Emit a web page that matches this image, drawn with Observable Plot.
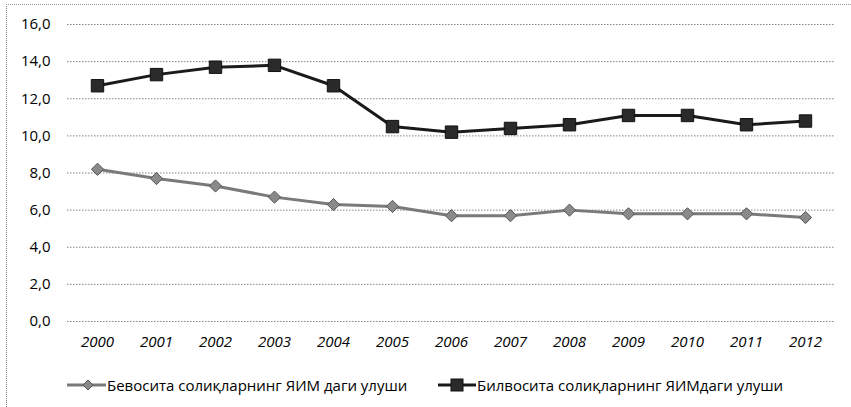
<!DOCTYPE html>
<html>
<head>
<meta charset="utf-8">
<script src="https://cdn.jsdelivr.net/npm/d3@7"></script>
<script src="https://cdn.jsdelivr.net/npm/@observablehq/plot@0.6"></script>
<style>
  html, body { margin: 0; padding: 0; background: #fff; }
  #frame { position: relative; width: 851px; height: 407px; }
  #border { position: absolute; left: 6px; top: 4px; width: 845px; height: 403px; box-sizing: border-box;
            border-left: 1px dotted #777; border-top: 1px dotted #999; pointer-events: none; }
  #chart { position: absolute; left: 0; top: 0; }
  #legend { position: absolute; left: 0; top: 374px; width: 851px; font-family: "Open Sans", sans-serif;
            font-size: 15px; color: #000; }
  .item { position: absolute; top: 0; height: 22px; display: flex; align-items: center; white-space: nowrap; }
  .item svg { margin-right: 1px; }
</style>
</head>
<body>
<div id="frame">
  <div id="chart"></div>
  <div id="border"></div>
  <div id="legend"></div>
</div>
<script>
const years = ["2000","2001","2002","2003","2004","2005","2006","2007","2008","2009","2010","2011","2012"];
const direct = [8.2, 7.7, 7.3, 6.7, 6.3, 6.2, 5.7, 5.7, 6.0, 5.8, 5.8, 5.8, 5.6];
const indirect = [12.7, 13.3, 13.7, 13.8, 12.7, 10.5, 10.2, 10.4, 10.6, 11.1, 11.1, 10.6, 10.8];
const seriesNames = ["Бевосита солиқларнинг ЯИМ даги улуши", "Билвосита солиқларнинг ЯИМдаги улуши"];
const yTicks = [0, 2, 4, 6, 8, 10, 12, 14, 16];

const dDirect = years.map((y, i) => ({year: y, value: direct[i]}));
const dIndirect = years.map((y, i) => ({year: y, value: indirect[i]}));
const fmt = d => d.toFixed(1).replace(".", ",");

const plot = Plot.plot({
  width: 851,
  height: 360,
  marginTop: 24,
  marginBottom: 39,
  marginLeft: 67,
  marginRight: 16,
  style: {fontFamily: "'Open Sans', sans-serif", fontSize: "15px", color: "#000", background: "transparent"},
  x: {type: "point", domain: years, padding: 0.5, label: null},
  y: {domain: [0, 16], label: null},
  marks: [
    Plot.ruleY(yTicks, {stroke: "#777", strokeWidth: 1, strokeDasharray: "1.5,1.5", strokeOpacity: 0.9}),
    Plot.axisY({ticks: yTicks, tickFormat: fmt, tickSize: 0, tickPadding: 17, fontSize: "15px"}),
    Plot.axisX({tickSize: 0, tickPadding: 15, fontStyle: "italic", fontSize: "15px"}),
    Plot.line(dDirect, {x: "year", y: "value", stroke: "#7a7a7a", strokeWidth: 3}),
    Plot.dot(dDirect, {x: "year", y: "value", symbol: "diamond2", r: 5.5, fill: "#8a8a8a", stroke: "#555", strokeWidth: 1}),
    Plot.line(dIndirect, {x: "year", y: "value", stroke: "#1a1a1a", strokeWidth: 3}),
    Plot.dot(dIndirect, {x: "year", y: "value", symbol: "square", r: 7, fill: "#2a2a2a", stroke: "#111", strokeWidth: 1})
  ]
});
document.getElementById("chart").appendChild(plot);

// legend
const legend = document.getElementById("legend");
const items = [
  {name: seriesNames[0], left: 67, lineColor: "#7a7a7a", marker: '<path d="M21,6 L26,11 L21,16 L16,11 Z" fill="#8a8a8a" stroke="#555" stroke-width="1"/>'},
  {name: seriesNames[1], left: 438, lineColor: "#1a1a1a", marker: '<rect x="13" y="5" width="12" height="12" fill="#2a2a2a" stroke="#111" stroke-width="1"/>'}
];
items.forEach(it => {
  const w = it.left === 67 ? 39 : 38;
  const div = document.createElement("div");
  div.className = "item";
  div.style.left = it.left + "px";
  div.innerHTML = `<svg width="${w}" height="22"><line x1="0" y1="11" x2="${w}" y2="11" stroke="${it.lineColor}" stroke-width="3"/>${it.marker}</svg><span>${it.name}</span>`;
  legend.appendChild(div);
});
</script>
</body>
</html>
